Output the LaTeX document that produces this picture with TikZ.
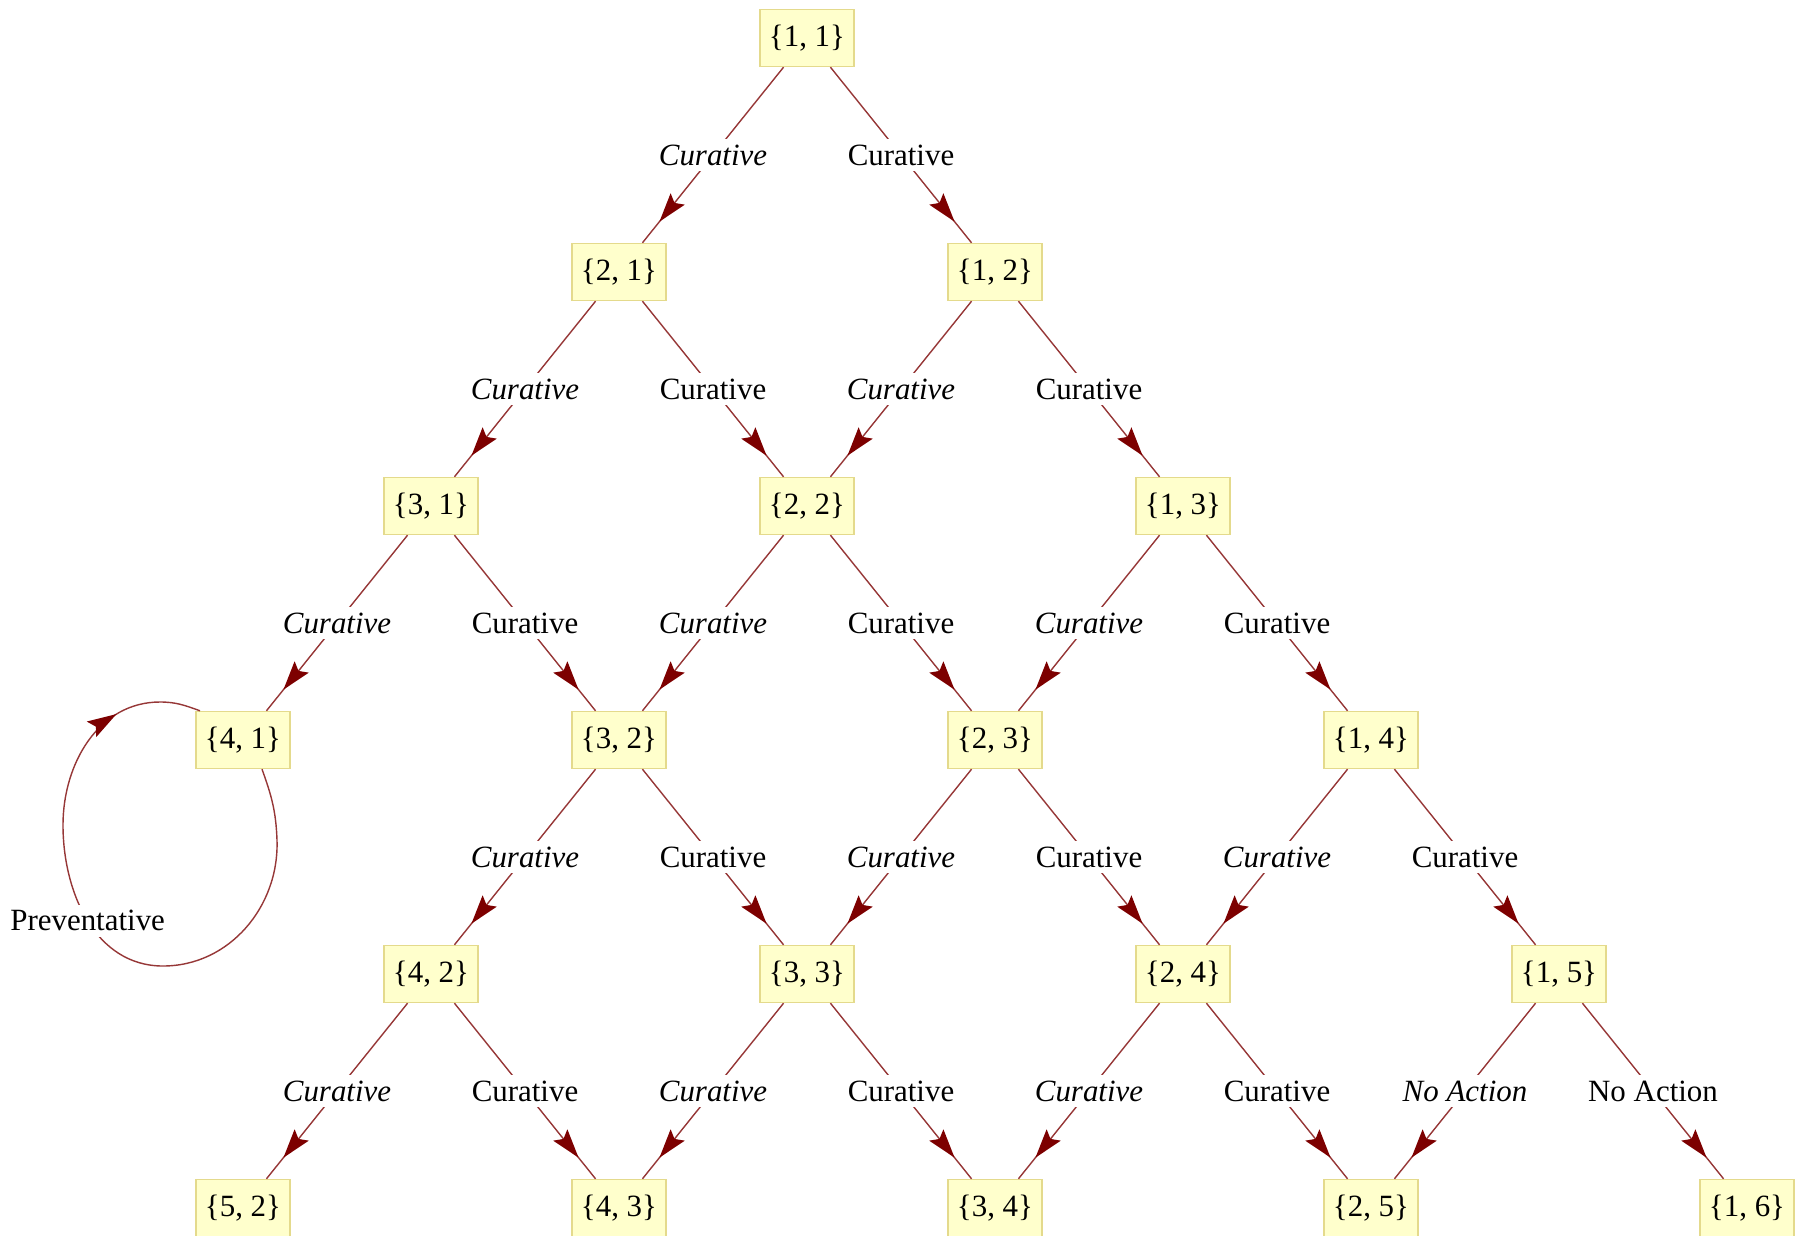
\documentclass[tikz,border=0pt]{standalone}
\usepackage{fontspec}
\setmainfont{Liberation Serif}
\usepackage{tikz}
\usetikzlibrary{positioning,arrows.meta,decorations.markings,calc}

\definecolor{boxfill}{RGB}{255,255,204}
\definecolor{boxline}{RGB}{228,218,140}
\definecolor{edgecol}{RGB}{150,55,55}
\definecolor{tipcol}{RGB}{125,0,0}

\begin{document}
\begin{tikzpicture}[on grid,node distance=2.34cm and 1.88cm,
                    font={\fontsize{8.8}{10}\selectfont}]
  \tikzstyle{stage}=[draw=boxline,fill=boxfill,minimum width=0.94cm,
                     minimum height=0.57cm,inner sep=1pt]
  \tikzstyle{act}=[fill=white,inner sep=1.5pt]
  \tikzstyle{trans}=[draw=edgecol,line width=0.4pt,postaction={decorate},
                     decoration={markings,mark=at position 0.88 with
                     {\arrow{Stealth[length=2.9mm,width=1.8mm,inset=0.5mm,color=tipcol,fill=tipcol]}}}]
  \tikzstyle{selfloop}=[draw=edgecol,line width=0.4pt,postaction={decorate},
                     decoration={markings,mark=at position 0.87 with
                     {\arrow{Stealth[length=2.9mm,width=1.8mm,inset=0.5mm,color=tipcol,fill=tipcol]}}}]

  \useasboundingbox (0,0) rectangle (17.98,-12.35);

  \node[stage] (n11) at (8.07,-0.38) {\{1, 1\}};
  \node[stage] (n21) [below left=of n11]  {\{2, 1\}};
  \node[stage] (n12) [below right=of n11] {\{1, 2\}};
  \node[stage] (n31) [below left=of n21]  {\{3, 1\}};
  \node[stage] (n22) [below right=of n21] {\{2, 2\}};
  \node[stage] (n13) [below right=of n12] {\{1, 3\}};
  \node[stage] (n41) [below left=of n31]  {\{4, 1\}};
  \node[stage] (n32) [below right=of n31] {\{3, 2\}};
  \node[stage] (n23) [below right=of n22] {\{2, 3\}};
  \node[stage] (n14) [below right=of n13] {\{1, 4\}};
  \node[stage] (n42) [below left=of n32]  {\{4, 2\}};
  \node[stage] (n33) [below right=of n32] {\{3, 3\}};
  \node[stage] (n24) [below right=of n23] {\{2, 4\}};
  \node[stage] (n15) [below right=of n14] {\{1, 5\}};
  \node[stage] (n52) [below left=of n42]  {\{5, 2\}};
  \node[stage] (n43) [below right=of n42] {\{4, 3\}};
  \node[stage] (n34) [below right=of n33] {\{3, 4\}};
  \node[stage] (n25) [below right=of n24] {\{2, 5\}};
  \node[stage] (n16) [below right=of n15] {\{1, 6\}};

  \path (n11) edge[trans] node[act] {\textit{Curative}} (n21)
              edge[trans] node[act] {Curative}          (n12)
        (n21) edge[trans] node[act] {\textit{Curative}} (n31)
              edge[trans] node[act] {Curative}          (n22)
        (n12) edge[trans] node[act] {\textit{Curative}} (n22)
              edge[trans] node[act] {Curative}          (n13)
        (n31) edge[trans] node[act] {\textit{Curative}} (n41)
              edge[trans] node[act] {Curative}          (n32)
        (n22) edge[trans] node[act] {\textit{Curative}} (n32)
              edge[trans] node[act] {Curative}          (n23)
        (n13) edge[trans] node[act] {\textit{Curative}} (n23)
              edge[trans] node[act] {Curative}          (n14)
        (n32) edge[trans] node[act] {\textit{Curative}} (n42)
              edge[trans] node[act] {Curative}          (n33)
        (n23) edge[trans] node[act] {\textit{Curative}} (n33)
              edge[trans] node[act] {Curative}          (n24)
        (n14) edge[trans] node[act] {\textit{Curative}} (n24)
              edge[trans] node[act] {Curative}          (n15)
        (n42) edge[trans] node[act] {\textit{Curative}} (n52)
              edge[trans] node[act] {Curative}          (n43)
        (n33) edge[trans] node[act] {\textit{Curative}} (n43)
              edge[trans] node[act] {Curative}          (n34)
        (n24) edge[trans] node[act] {\textit{Curative}} (n34)
              edge[trans] node[act] {Curative}          (n25)
        (n15) edge[trans] node[act] {\textit{No Action}} (n25)
              edge[trans] node[act] {No Action}          (n16);

  % self loop on {4, 1}
  \draw[selfloop] ([xshift=0.19cm]n41.south)
      to[out=-70,in=92]  ($(n41)+(0.34,-1.00)$)
      to[out=-88,in=0]   ($(n41)+(-0.80,-2.26)$)
      to[out=180,in=-90] node[act] {Preventative} ($(n41)+(-1.80,-0.85)$)
      to[out=90,in=180]  ($(n41)+(-0.83,0.38)$)
      to[out=0,in=160]   ([xshift=-0.43cm]n41.north);
\end{tikzpicture}
\end{document}
